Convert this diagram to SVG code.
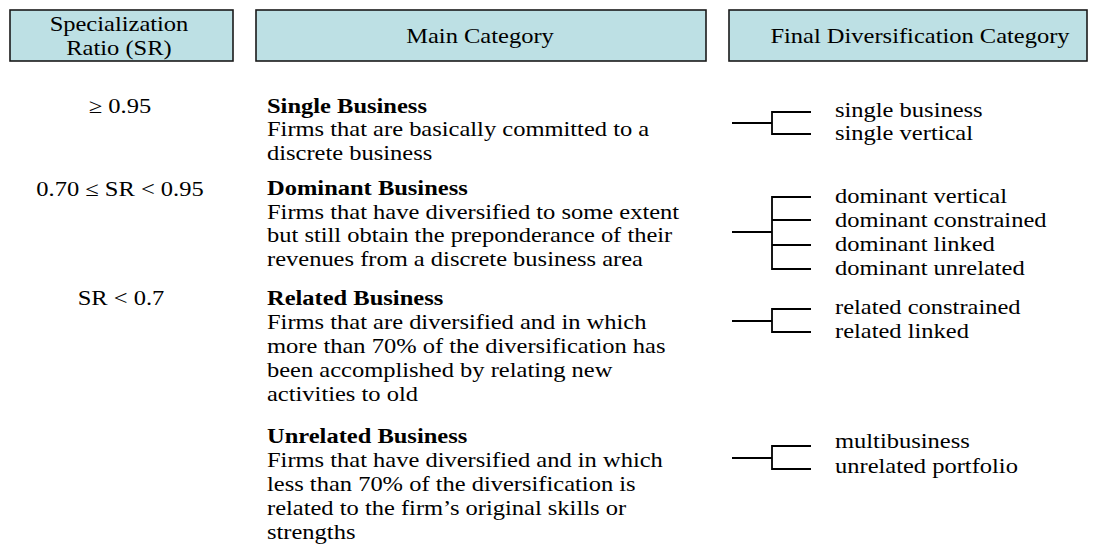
<svg xmlns="http://www.w3.org/2000/svg" width="1097" height="548" viewBox="0 0 1097 548">
<style>
.hdr{fill:#bde0e4;stroke:#1a1a1a;stroke-width:1.6}
text{font-family:"Liberation Serif","Times New Roman",serif;font-size:20.5px;fill:#000}
.c{text-anchor:middle}
.b{font-weight:bold}
.ln{fill:none;stroke:#000;stroke-width:1.8}
</style>
<rect width="1097" height="548" fill="#fff"/>
<g id="hdr-sr">
<rect class="hdr" x="10" y="10" width="223" height="51"/>
<g transform="translate(119,0) scale(1.195,1)">
<text class="c" x="0" y="31.5">Specialization</text>
<text class="c" x="0" y="55">Ratio (SR)</text>
</g>
</g>
<g id="hdr-main">
<rect class="hdr" x="256" y="10" width="450" height="51"/>
<text class="c" transform="translate(480,43) scale(1.195,1)">Main Category</text>
</g>
<g id="hdr-final">
<rect class="hdr" x="729" y="10" width="358" height="51"/>
<text class="c" transform="translate(920,43) scale(1.195,1)">Final Diversification Category</text>
</g>
<g id="sr-values">
<text class="c" transform="translate(120,113) scale(1.195,1)">≥ 0.95</text>
<text class="c" transform="translate(120,195.5) scale(1.195,1)">0.70 ≤ SR &lt; 0.95</text>
<text class="c" transform="translate(121,305) scale(1.195,1)">SR &lt; 0.7</text>
</g>
<g id="single" transform="translate(267,0) scale(1.195,1)">
<text class="b" x="0" y="113">Single Business</text>
<text x="0" y="136.5">Firms that are basically committed to a</text>
<text x="0" y="160">discrete business</text>
</g>
<g id="dominant" transform="translate(267,0) scale(1.195,1)">
<text class="b" x="0" y="195.5">Dominant Business</text>
<text x="0" y="219">Firms that have diversified to some extent</text>
<text x="0" y="242.5">but still obtain the preponderance of their</text>
<text x="0" y="266">revenues from a discrete business area</text>
</g>
<g id="related" transform="translate(267,0) scale(1.195,1)">
<text class="b" x="0" y="305">Related Business</text>
<text x="0" y="329">Firms that are diversified and in which</text>
<text x="0" y="353">more than 70% of the diversification has</text>
<text x="0" y="377">been accomplished by relating new</text>
<text x="0" y="401">activities to old</text>
</g>
<g id="unrelated" transform="translate(267,0) scale(1.195,1)">
<text class="b" x="0" y="443">Unrelated Business</text>
<text x="0" y="467">Firms that have diversified and in which</text>
<text x="0" y="491">less than 70% of the diversification is</text>
<text x="0" y="515">related to the firm’s original skills or</text>
<text x="0" y="539">strengths</text>
</g>
<g id="final-single" transform="translate(835,0) scale(1.195,1)">
<text x="0" y="117">single business</text>
<text x="0" y="140.5">single vertical</text>
</g>
<g id="final-dominant" transform="translate(835,0) scale(1.195,1)">
<text x="0" y="203">dominant vertical</text>
<text x="0" y="227">dominant constrained</text>
<text x="0" y="251">dominant linked</text>
<text x="0" y="275">dominant unrelated</text>
</g>
<g id="final-related" transform="translate(835,0) scale(1.195,1)">
<text x="0" y="314">related constrained</text>
<text x="0" y="338">related linked</text>
</g>
<g id="final-unrelated" transform="translate(835,0) scale(1.195,1)">
<text x="0" y="448">multibusiness</text>
<text x="0" y="473">unrelated portfolio</text>
</g>
<g id="connectors">
<path class="ln" d="M732 123H772M811 112H772V134H811"/>
<path class="ln" d="M732 232H772M811 197H772V269H811M772 220H811M772 245H811"/>
<path class="ln" d="M732 321H772M811 309H772V332H811"/>
<path class="ln" d="M732 458H772M811 446H772V469H811"/>
</g>
</svg>
